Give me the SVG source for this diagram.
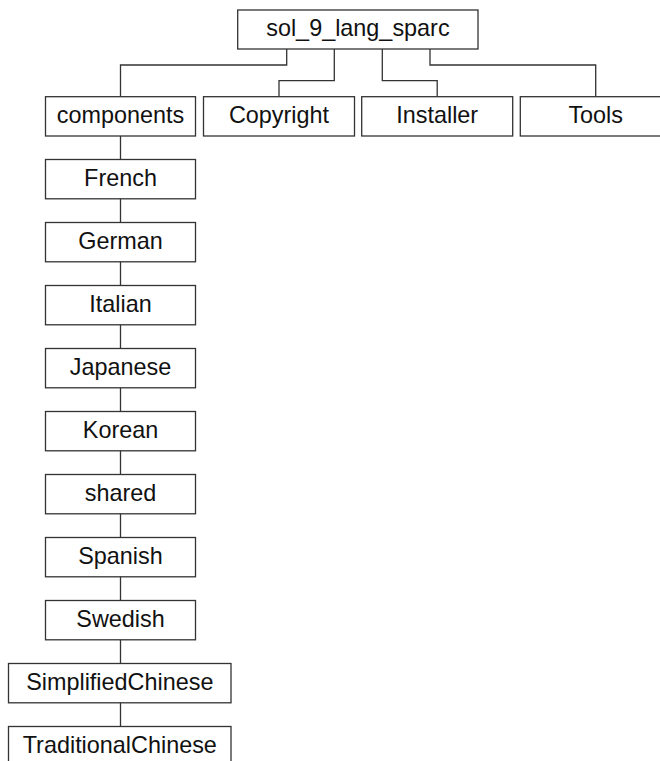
<svg xmlns="http://www.w3.org/2000/svg" width="660" height="761" viewBox="0 0 660 761">
<style>
rect.box{fill:#fff;stroke:#333;stroke-width:1.3}
text{font-family:"Liberation Sans",Arial,Helvetica,sans-serif;font-size:23.4px;fill:#111;text-anchor:middle}
#connectors path,#connectors line{fill:none;stroke:#333;stroke-width:1.3}
</style>
<rect width="660" height="761" fill="#fff"/>
<g id="connectors">
<path d="M286.7,49 V65 H120.5 V96.7"/>
<path d="M334.3,49 V80.7 H279 V96.7"/>
<path d="M382.3,49 V80.7 H437.2 V96.7"/>
<path d="M430,49 V65 H595.7 V96.7"/>
<line x1="120.5" y1="136" x2="120.5" y2="726.5"/>
</g>
<g id="sol_9_lang_sparc"><rect class="box" x="237.7" y="10" width="240.3" height="39"/><text x="357.9" y="36.3">sol_9_lang_sparc</text></g>
<g id="components"><rect class="box" x="45.5" y="96.7" width="150" height="39.3"/><text x="120.5" y="123.3">components</text></g>
<g id="Copyright"><rect class="box" x="203.5" y="96.7" width="151" height="39.3"/><text x="279" y="123.3">Copyright</text></g>
<g id="Installer"><rect class="box" x="361.7" y="96.7" width="151" height="39.3"/><text x="437.2" y="123.3">Installer</text></g>
<g id="Tools"><rect class="box" x="520.3" y="96.7" width="151" height="39.3"/><text x="595.7" y="123.3">Tools</text></g>
<g id="French"><rect class="box" x="45.5" y="159.5" width="150" height="39.3"/><text x="120.5" y="186.2">French</text></g>
<g id="German"><rect class="box" x="45.5" y="222.5" width="150" height="39.3"/><text x="120.5" y="249.2">German</text></g>
<g id="Italian"><rect class="box" x="45.5" y="285.5" width="150" height="39.3"/><text x="120.5" y="312.2">Italian</text></g>
<g id="Japanese"><rect class="box" x="45.5" y="348.5" width="150" height="39.3"/><text x="120.5" y="375.2">Japanese</text></g>
<g id="Korean"><rect class="box" x="45.5" y="411.5" width="150" height="39.3"/><text x="120.5" y="438.2">Korean</text></g>
<g id="shared"><rect class="box" x="45.5" y="474.5" width="150" height="39.3"/><text x="120.5" y="501.2">shared</text></g>
<g id="Spanish"><rect class="box" x="45.5" y="537.5" width="150" height="39.3"/><text x="120.5" y="564.2">Spanish</text></g>
<g id="Swedish"><rect class="box" x="45.5" y="600.5" width="150" height="39.3"/><text x="120.5" y="627.2">Swedish</text></g>
<g id="SimplifiedChinese"><rect class="box" x="8.5" y="663.5" width="222.5" height="39.3"/><text x="119.8" y="690.2">SimplifiedChinese</text></g>
<g id="TraditionalChinese"><rect class="box" x="8.5" y="726.5" width="222.5" height="39.3"/><text x="119.8" y="753.2">TraditionalChinese</text></g>
</svg>
